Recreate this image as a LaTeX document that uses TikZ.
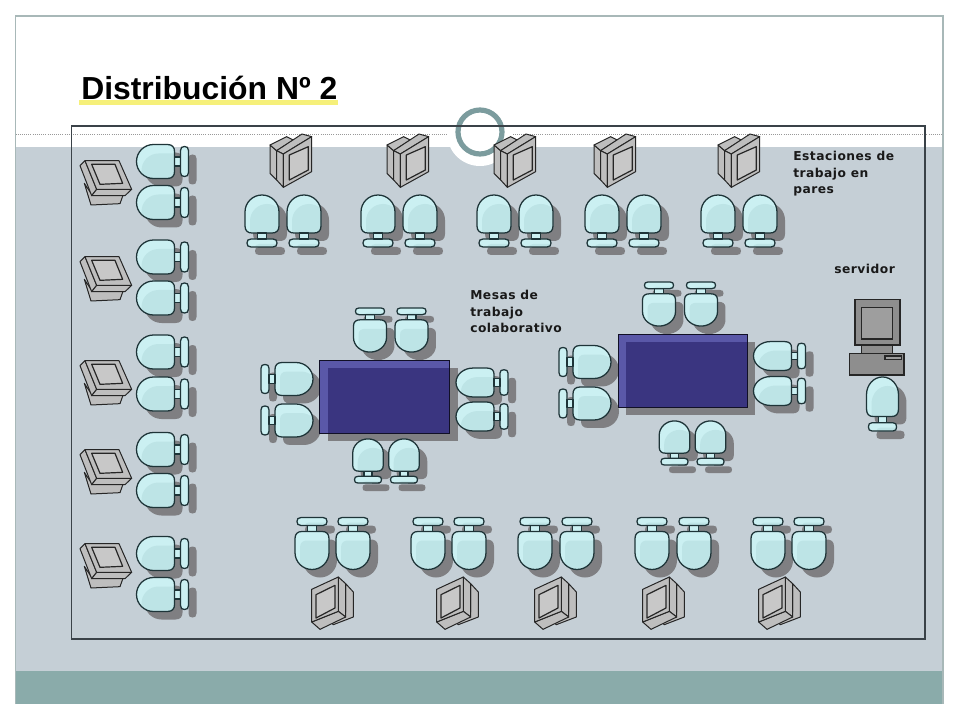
\documentclass[tikz,border=0pt]{standalone}
\usepackage{fontspec}
\setmainfont{Liberation Sans}
\newfontfamily\labelfont[LetterSpace=4]{DejaVu Sans}
\definecolor{slidegrey}{HTML}{C5CFD6}
\definecolor{slideteal}{HTML}{8AABAA}
\definecolor{slideedge}{HTML}{A8B8B8}
\definecolor{frameink}{HTML}{3A4248}
\definecolor{ringteal}{HTML}{7C9C9E}
\definecolor{seatlight}{HTML}{CBF0F2}
\definecolor{seatdark}{HTML}{BDE4E6}
\definecolor{seatink}{HTML}{1E3438}
\definecolor{shadowgrey}{HTML}{7F7F82}
\definecolor{monfill}{HTML}{BEBEBE}
\definecolor{monscreen}{HTML}{C8C8C8}
\definecolor{servfill}{HTML}{8E8E8E}
\definecolor{servscreen}{HTML}{9E9E9E}
\definecolor{tablefill}{HTML}{3A3580}
\definecolor{tablelight}{HTML}{5A58A8}
\definecolor{underlineyellow}{HTML}{F6F07A}
\tikzset{
  ink/.style={draw=seatink,line width=0.95pt,line join=round},
  moninkfill/.style={draw=black!85,fill=monfill,line width=0.75pt,line join=round},
  moninner/.style={draw=black!85,fill=monscreen,line width=0.9pt,line join=round},
  servpart/.style={draw=black!85,fill=servfill,line width=1pt},
  tagtext/.style={font=\labelfont\fontsize{9.2}{12.4}\selectfont\bfseries,text=black!90,anchor=north west,inner sep=0pt,align=left},
}
\def\seatpath{(-17,5) -- (-17,-9) .. controls (-17,-18.4) and (-9.4,-26) .. (0,-26) .. controls (9.4,-26) and (17,-18.4) .. (17,-9) -- (17,5) .. controls (17,10) and (14,12) .. (10,12) -- (-10,12) .. controls (-14,12) and (-17,10) .. (-17,5) -- cycle}
\def\neckpath{(-4.5,12) rectangle (4.5,18)}
\def\barpath{(-15,22) .. controls (-15,19.5) and (-14,18) .. (-11,18) -- (11,18) .. controls (14,18) and (15,19.5) .. (15,22) .. controls (15,24.5) and (14,26) .. (11,26) -- (-11,26) .. controls (-14,26) and (-15,24.5) .. (-15,22) -- cycle}
% x, y, rotation, width scale, length scale
\newcommand\chairfig[5]{%
  \begin{scope}[shift={(#1,#2)}]
    \begin{scope}[shift={(8,8)}]
      \fill[shadowgrey,rotate=#3,xscale=#4,yscale=#5] \seatpath;
      \fill[shadowgrey,rotate=#3,xscale=#4,yscale=#5] \neckpath;
      \fill[shadowgrey,rotate=#3,xscale=#4,yscale=#5] \barpath;
    \end{scope}
    \fill[seatlight,rotate=#3,xscale=#4,yscale=#5] \seatpath;
    \fill[seatlight,rotate=#3,xscale=#4,yscale=#5] \neckpath;
    \fill[seatlight,rotate=#3,xscale=#4,yscale=#5] \barpath;
    \begin{scope}
      \clip[rotate=#3,xscale=#4,yscale=#5] \seatpath;
      \fill[seatdark,shift={(5,9)},rotate=#3,xscale=#4,yscale=#5] \seatpath;
    \end{scope}
    \begin{scope}
      \clip[rotate=#3,xscale=#4,yscale=#5] \barpath;
      \fill[seatdark,shift={(8,5)},rotate=#3,xscale=#4,yscale=#5] \barpath;
    \end{scope}
    \draw[ink,rotate=#3,xscale=#4,yscale=#5] \neckpath;
    \draw[ink,rotate=#3,xscale=#4,yscale=#5] \seatpath;
    \draw[ink,rotate=#3,xscale=#4,yscale=#5] \barpath;
  \end{scope}}
% monitor seen from the left column (origin = crop corner)
\newcommand\monA[2]{%
  \begin{scope}[shift={(#1,#2)},scale=1/3]
    \draw[moninkfill] (28,85) -- (48,150) -- (135,146) -- (145,118) -- (50,118) -- cycle;
    \draw[moninkfill] (15,32) -- (30,17) -- (65,103) -- (50,122) -- cycle;
    \draw[moninkfill] (50,122) -- (65,103) -- (170,103) -- (150,122) -- cycle;
    \draw[moninkfill] (30,17) -- (132,17) -- (170,103) -- (65,103) -- cycle;
    \draw[moninner] (50,28) -- (120,28) -- (143,85) -- (75,88) -- cycle;
  \end{scope}}
% monitor seen from the top row
\newcommand\monB[2]{%
  \begin{scope}[shift={(#1,#2)},scale=1/3]
    \draw[moninkfill] (24,45) -- (24,130) -- (44,150) -- (44,62) -- cycle;
    \draw[moninkfill] (24,45) -- (74,20) -- (94,30) -- (44,62) -- cycle;
    \draw[moninkfill] (44,62) -- (120,12) -- (149,20) -- (64,72) -- cycle;
    \draw[moninkfill] (44,62) -- (64,72) -- (64,172) -- (44,150) -- cycle;
    \draw[moninkfill] (64,72) -- (149,20) -- (149,125) -- (64,172) -- cycle;
    \draw[moninner] (82,75) -- (139,50) -- (139,120) -- (82,150) -- cycle;
  \end{scope}}
% monitor seen from the bottom row
\newcommand\monC[2]{%
  \begin{scope}[shift={(#1,#2)},scale=1/3]
    \draw[moninkfill] (122,35) -- (145,60) -- (145,135) -- (85,158) -- (75,148) -- (122,120) -- cycle;
    \draw[moninkfill] (100,15) -- (122,35) -- (122,135) -- (100,118) -- cycle;
    \draw[moninkfill] (20,150) -- (100,118) -- (122,135) -- (45,172) -- cycle;
    \draw[moninkfill] (20,52) -- (100,15) -- (100,118) -- (20,150) -- cycle;
    \draw[moninner] (33,68) -- (90,40) -- (90,108) -- (33,138) -- cycle;
  \end{scope}}
\newcommand\tablefig[4]{%
  \fill[tablefill] (#1,#2) rectangle (#3,#4);
  \fill[tablelight] (#1,#2) rectangle (#3,#2+8);
  \fill[tablelight] (#1,#2) rectangle (#1+8,#4);
  \draw[draw=black!70!tablefill,line width=0.7pt] (#1,#2) rectangle (#3,#4);}
\newcommand\tableshadow[4]{\fill[shadowgrey] (#1+8,#2+8) rectangle (#3+8,#4+8);}
\begin{document}
\begin{tikzpicture}[x=0.75pt,y=-0.75pt]
\useasboundingbox (0,0) rectangle (960,720);
% slide
\fill[white] (0,0) rectangle (960,720);
\fill[slidegrey] (15.5,147) rectangle (943,671);
\fill[slideteal] (15.5,671) rectangle (943,704);
\draw[slideedge,line width=0.9pt] (15.5,704) -- (15.5,16) -- (943,16) -- (943,704);
\draw[black!40,line width=0.6pt,densely dotted] (15.5,134) -- (943,134);
\fill[white] (480,133) circle (33);
\draw[ringteal,line width=3.9pt] (480,132) circle (22);
% work frame
\draw[frameink,line width=1pt] (71.5,126) rectangle (925,639);
% title
\fill[underlineyellow] (79,100.5) rectangle (338,105);
\node[anchor=base west,inner sep=0pt,font=\fontsize{23.9}{28}\selectfont\bfseries] (title) at (81,99.5) {Distribución Nº 2};
% labels
\node[tagtext] (pairs) at (793,151) {Estaciones de\\trabajo en\\pares};
\node[tagtext] (server) at (834,264) {servidor};
\node[tagtext] (tables) at (470,290) {Mesas de\\trabajo\\colaborativo};
% left column
\foreach \yy in {161.5,202.5,257,298,352,394,449.5,490.5,553.5,594.5}{\chairfig{162.5}{\yy}{90}{1}{1}}
\foreach \yy in {155,251,355,444,538}{\monA{75}{\yy}}
% top row
\foreach \xx in {262,304,378,420,494,536,602,644,718,760}{\chairfig{\xx}{221}{0}{1}{1}}
\foreach \xx in {262,379,486,586,710}{\monB{\xx}{130}}
% bottom row
\foreach \xx in {312,353,428,469,535,577,652,694,768,809}{\chairfig{\xx}{543.5}{180}{1}{1}}
\foreach \xx in {305,430,528,636,752}{\monC{\xx}{572}}
% table 1
\tableshadow{319.5}{360}{449.5}{433}
\chairfig{370}{330}{180}{0.97}{0.85}
\chairfig{411.5}{330}{180}{0.97}{0.85}
\chairfig{368}{461}{0}{0.9}{0.85}
\chairfig{404}{461}{0}{0.9}{0.85}
\chairfig{287}{379}{-90}{0.97}{1}
\chairfig{287}{420.5}{-90}{0.97}{1}
\chairfig{482}{382.5}{90}{0.85}{1}
\chairfig{482}{416.5}{90}{0.85}{1}
\tablefig{319.5}{360}{449.5}{433}
% table 2
\tableshadow{618}{334}{747}{407}
\chairfig{659}{304}{180}{0.97}{0.85}
\chairfig{701}{304}{180}{0.97}{0.85}
\chairfig{674.5}{443}{0}{0.9}{0.85}
\chairfig{710.5}{443}{0}{0.9}{0.85}
\chairfig{585}{362}{-90}{0.97}{1}
\chairfig{585}{403.5}{-90}{0.97}{1}
\chairfig{779.5}{356}{90}{0.85}{1}
\chairfig{779.5}{391}{90}{0.85}{1}
\tablefig{618}{334}{747}{407}
% server
\begin{scope}[shift={(840,295)},scale=1/3]
  \draw[servpart] (65,150) rectangle (157,175);
  \draw[servpart] (45,14) rectangle (180,150);
  \draw[servpart,fill=servscreen] (65,38) rectangle (158,132);
  \draw[servpart] (28,175) rectangle (192,240);
  \draw[servpart,line width=0.8pt,fill=servscreen] (135,183) rectangle (185,193);
\end{scope}
\chairfig{882.5}{404}{0}{0.94}{1.04}
\end{tikzpicture}
\end{document}
